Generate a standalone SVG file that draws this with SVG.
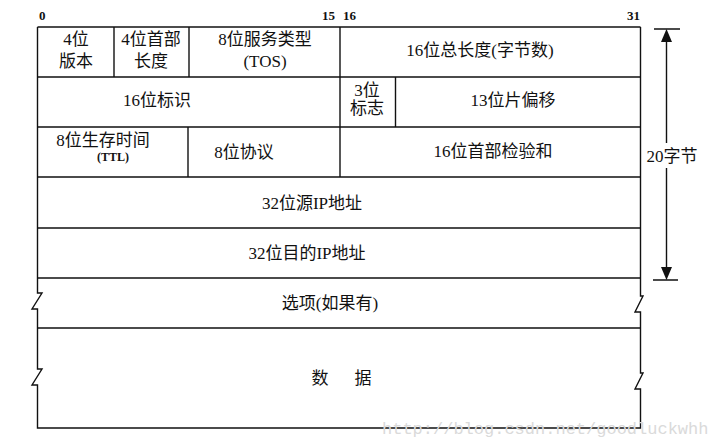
<svg xmlns="http://www.w3.org/2000/svg" width="714" height="448" viewBox="0 0 714 448">
<style>
.ln{fill:none;stroke:#111;stroke-width:1.4}
.t{font-family:"Liberation Serif","Noto Sans CJK SC",serif;font-size:17px;fill:#111;text-anchor:middle}
.b{font-family:"Liberation Serif",serif;font-size:13px;font-weight:bold;fill:#111}
.ttl{font-family:"Liberation Serif",serif;font-size:12px;font-weight:bold;fill:#111;text-anchor:middle}
.wm{font-family:"Liberation Mono",monospace;font-size:17px;fill:#dadada}
</style>
<rect width="714" height="448" fill="#fff"/>
<g id="bits">
<text class="b" x="39" y="20">0</text>
<text class="b" x="322" y="20">15</text>
<text class="b" x="343" y="20">16</text>
<text class="b" x="627" y="20">31</text>
</g>
<g id="frame">
<path class="ln" d="M37.5,27 H640.5"/>
<path class="ln" d="M37.5,27 V293 H42 L32,309 H37.5 V369 H42 L32,385 H37.5 V428 H640.5 V389 H635 L643,373 H640.5 V312 H635 L643,296 H640.5 V27"/>
<path class="ln" d="M37.5,77 H640.5 M37.5,127 H640.5 M37.5,177 H640.5 M37.5,228 H640.5 M37.5,278 H640.5 M37.5,328 H640.5"/>
</g>
<g id="version"><path class="ln" d="M114,27 V77"/><text class="t" x="76" y="45">4位</text><text class="t" x="76" y="67">版本</text></g>
<g id="ihl"><path class="ln" d="M189,27 V77"/><text class="t" x="151" y="45">4位首部</text><text class="t" x="151" y="67">长度</text></g>
<g id="tos"><path class="ln" d="M340,27 V77"/><text class="t" x="265" y="45">8位服务类型</text><text class="t" x="265" y="67">(TOS)</text></g>
<g id="totallen"><text class="t" x="480" y="56">16位总长度(字节数)</text></g>
<g id="ident"><text class="t" x="157" y="106">16位标识</text></g>
<g id="flags"><path class="ln" d="M340,77 V127 M395.5,77 V127"/><text class="t" x="367" y="96">3位</text><text class="t" x="367" y="114">标志</text></g>
<g id="fragoff"><text class="t" x="513" y="106">13位片偏移</text></g>
<g id="ttl"><path class="ln" d="M188,127 V177"/><text class="t" x="103" y="146">8位生存时间</text><text class="ttl" x="113" y="161">(TTL)</text></g>
<g id="proto"><path class="ln" d="M340,127 V177"/><text class="t" x="244" y="158">8位协议</text></g>
<g id="checksum"><text class="t" x="493" y="157">16位首部检验和</text></g>
<g id="srcip"><text class="t" x="312" y="209">32位源IP地址</text></g>
<g id="dstip"><text class="t" x="307" y="259">32位目的IP地址</text></g>
<g id="options"><text class="t" x="330" y="309">选项(如果有)</text></g>
<g id="data"><text class="t" x="320" y="384">数</text><text class="t" x="363" y="384">据</text></g>
<g id="connectors">
<path class="ln" d="M654,29 H680 M653,280 H678 M666.5,40 V143 M666.5,168 V268"/>
<polygon points="666.5,29 661,42 672,42" fill="#111"/>
<polygon points="666.5,280 661,267 672,267" fill="#111"/>
<text class="t" x="672" y="162">20字节</text>
</g>
<text class="wm" x="382" y="434">http://blog.csdn.net/goodluckwhh</text>
</svg>
